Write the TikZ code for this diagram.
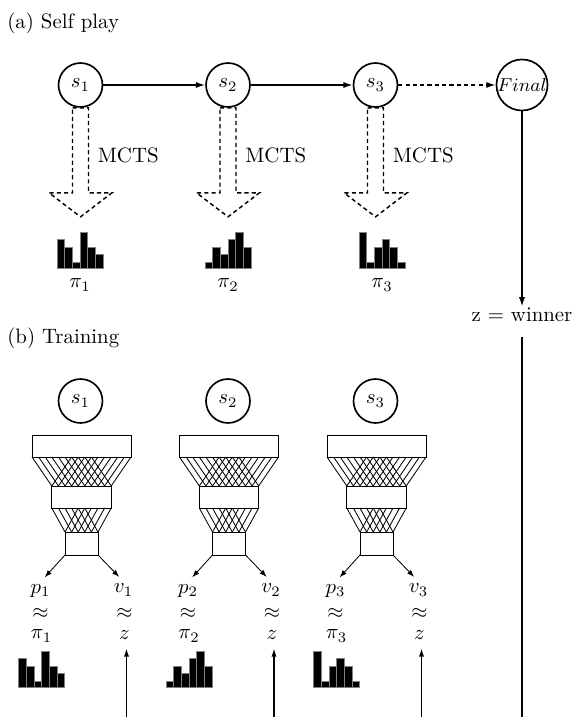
\documentclass[tikz,border=0pt]{standalone}
\usetikzlibrary{arrows.meta,calc}
\newcommand{\policybars}[3]{\foreach \h [count=\k from 0] in {#3} {\filldraw[histbar] ({#1-23+7.67*\k},#2) rectangle ++(7.67,{1.5-7.5*\h});}}
\begin{document}
\begin{tikzpicture}[x=0.48pt,y=-0.48pt,
  state/.style={draw=customcolor0,circle,line width=0.8pt,minimum size=21.1pt,inner sep=0pt},
  netbox/.style={draw=customcolor0,rectangle,line width=0.4pt,inner sep=0pt,outer sep=0pt},
  mesh/.style={customcolor0,line width=0.4pt},
  flow/.style={-{Latex[length=4.5pt,width=3pt]},customcolor0,line width=0.8pt},
  mctsarrow/.style={customcolor0,line width=0.7pt,dash pattern=on 2pt off 1.5pt},
  histbar/.style={fill=customcolor0,draw=customcolor1,line width=0.3pt},
  outarrow/.style={-{Latex[length=3.5pt,width=2.5pt]},customcolor0,line width=0.4pt,shorten >=3pt},
  target/.style={-{Latex[length=4pt,width=2.5pt]},customcolor0,line width=0.7pt,shorten >=3pt},
  approxlbl/.style={inner sep=1pt}]
\definecolor{customcolor0}{HTML}{000000}
\definecolor{customcolor1}{HTML}{808080}
\useasboundingbox (0,0) rectangle (576,717);
\node[anchor=west] (lbla) at (0,23) {(a) Self play};
\node[anchor=west] (lblb) at (0,338) {(b) Training};
\node[state] (sa1) at (80.5,85) {$s_1$};
\node[state] (sa2) at (228,85) {$s_2$};
\node[state] (sa3) at (375.5,85) {$s_3$};
\node[state] (fin) at (522,85) {\fontsize{8.6}{10}\selectfont$Final$};
\draw[flow] (sa1) -- (sa2);
\draw[flow] (sa2) -- (sa3);
\draw[flow,dash pattern=on 2pt off 1.5pt] (sa3) -- (fin);
\node[inner ysep=0.5pt] (zwin) at (522,315) {z = winner};
\coordinate (fb) at (522,717);
\draw[flow] (fin) -- (zwin);
\draw[customcolor0,line width=0.8pt] ([yshift=-6.5pt]zwin.south) -- (fb);
\foreach \i/\x/\px in {1/80.5/80,2/228/228,3/375.5/382} {
  \draw[mctsarrow] ($(sa\i.south)+(-8,0)$) -- ($(sa\i.south)+(8,0)$) -- ($(sa\i.south)+(8,85)$) -- ($(sa\i.south)+(31.5,85)$) -- ($(sa\i.south)+(0,109)$) -- ($(sa\i.south)+(-31.5,85)$) -- ($(sa\i.south)+(-8,85)$) -- cycle;
  \node[anchor=west] (mcts\i) at (\x+10,155) {MCTS};
  \node (pi\i) at (\px,285) {$\pi_\i$};
}
\policybars{80}{268}{4,3,1,5,3,2}
\policybars{228}{268}{1,3,2,4,5,3}
\policybars{382}{268}{5,1,3,4,3,1}
\foreach \i/\x in {1/80.5,2/228,3/375.5} {
  \node[state] (sb\i) at (\x,401) {$s_\i$};
  \node[netbox,minimum width=47.5pt,minimum height=10.6pt] (nt\i) at (\x+1,446) {};
  \node[netbox,minimum width=28.5pt,minimum height=10.6pt] (nm\i) at (\x+1,497) {};
  \node[netbox,minimum width=15.8pt,minimum height=11pt] (nb\i) at (\x+1,543.5) {};
  \foreach \j in {0,...,9} {
    \draw[mesh] ($(nt\i.south west)!{\j/15}!(nt\i.south east)$) -- ($(nm\i.north west)!{\j/9}!(nm\i.north east)$);
    \draw[mesh] ($(nt\i.south west)!{(\j+6)/15}!(nt\i.south east)$) -- ($(nm\i.north west)!{\j/9}!(nm\i.north east)$);
  }
  \foreach \j in {0,...,5} {
    \draw[mesh] ($(nm\i.south west)!{\j/9}!(nm\i.south east)$) -- ($(nb\i.north west)!{\j/5}!(nb\i.north east)$);
    \draw[mesh] ($(nm\i.south west)!{(\j+4)/9}!(nm\i.south east)$) -- ($(nb\i.north west)!{\j/5}!(nb\i.north east)$);
  }
  \node[approxlbl] (pl\i) at (\x-40,591) {$p_\i$};
  \node[approxlbl] (pa\i) at (\x-40,613) {$\approx$};
  \node[approxlbl] (pp\i) at (\x-39,636) {$\pi_\i$};
  \node[approxlbl] (vl\i) at (\x+43,590) {$v_\i$};
  \node[approxlbl] (va\i) at (\x+44,613) {$\approx$};
  \node[approxlbl] (vz\i) at (\x+44,635) {$z$};
  \draw[outarrow] (nb\i.south west) -- (pl\i.north);
  \draw[outarrow] (nb\i.south east) -- (vl\i.north);
  \coordinate (zb\i) at (\x+46,717);
  \draw[target] (zb\i) -- (zb\i |- vz\i.south);
}
\policybars{41.5}{687}{4,3,1,5,3,2}
\policybars{189}{687}{1,3,2,4,5,3}
\policybars{336.5}{687}{5,1,3,4,3,1}
\end{tikzpicture}
\end{document}
